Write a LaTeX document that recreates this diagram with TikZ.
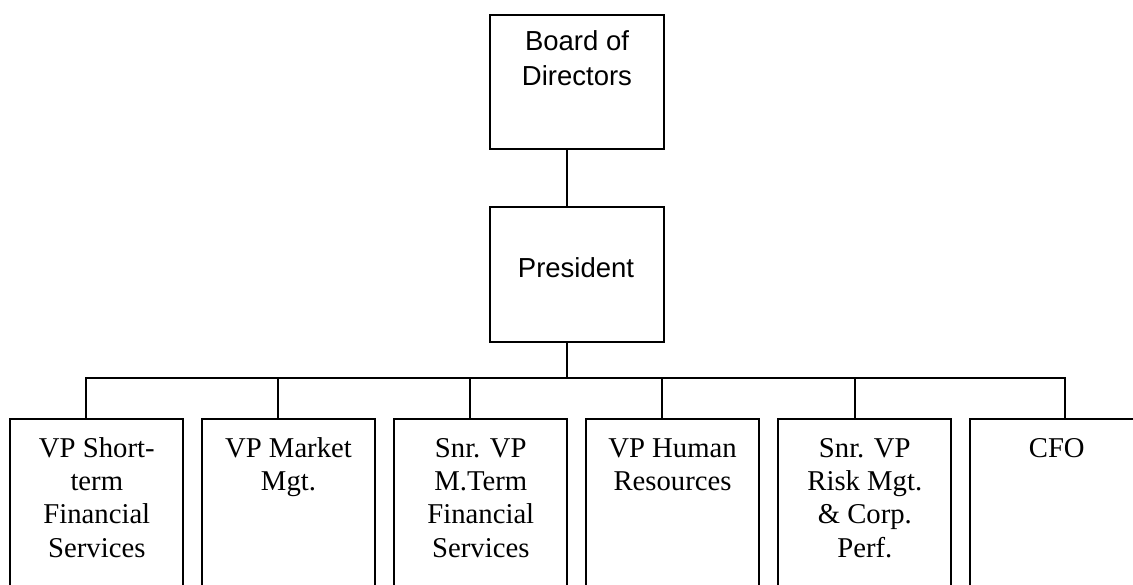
\documentclass[tikz,border=0pt]{standalone}
\usepackage{fontspec}
\setmainfont{Liberation Serif}
\newfontfamily\arialfont{Liberation Sans}
\begin{document}
\begin{tikzpicture}[x=1pt,y=-1pt,
  box/.style={draw,line width=2pt,inner sep=0pt,minimum width=173pt,minimum height=200pt,anchor=north west},
  topbox/.style={draw,line width=2pt,inner sep=0pt,minimum width=174pt,anchor=north west},
  lbl/.style={inner sep=0pt,align=center,font=\fontsize{28.7}{33.2}\selectfont,anchor=north},
  toplbl/.style={inner sep=0pt,align=center,font=\arialfont\fontsize{27.5}{35}\selectfont},
  conn/.style={line width=2pt}]
\useasboundingbox (0,0) rectangle (1133,585);
\clip (0,0) rectangle (1133,585);
% top boxes
\node[topbox,minimum height=134pt] (board) at (489,14) {};
\node[topbox,minimum height=135pt] (pres) at (489,206) {};
\node[toplbl,anchor=north] (boardt) at ([yshift=-11.5pt]board.north) {\strut Board of\\Directors};
\node[toplbl,anchor=base] (prest) at (576,277.3) {President};
% bottom boxes
\node[box] (b1) at (9.3,417.7) {};
\node[box] (b2) at (201,417.7) {};
\node[box] (b3) at (393.3,417.7) {};
\node[box] (b4) at (585,417.7) {};
\node[box] (b5) at (777.3,417.7) {};
\node[box] (b6) at (969.3,417.7) {};
\node[lbl] (t1) at ([yshift=-16.4pt]b1.north) {\strut VP Short-\\term\\Financial\\Services};
\node[lbl] (t2) at ([yshift=-16.4pt]b2.north) {\strut VP Market\\Mgt.};
\node[lbl] (t3) at ([yshift=-16.4pt]b3.north) {\strut Snr. VP\\M.Term\\Financial\\Services};
\node[lbl] (t4) at ([yshift=-16.4pt]b4.north) {\strut VP Human\\Resources};
\node[lbl] (t5) at ([yshift=-16.4pt]b5.north) {\strut Snr. VP\\Risk Mgt.\\\& Corp.\\Perf.};
\node[lbl] (t6) at ([yshift=-16.4pt]b6.north) {\strut CFO};
% connectors
\coordinate (bus) at (566.5,378.3);
\coordinate (j1) at (86,378.3);
\coordinate (j2) at (277.7,378.3);
\coordinate (j3) at (470.3,378.3);
\coordinate (j4) at (662,378.3);
\coordinate (j5) at (854.7,378.3);
\coordinate (j6) at (1065.3,378.3);
\draw[conn] (board.south -| bus) -- (pres.north -| bus);
\draw[conn] (pres.south -| bus) -- (bus);
\draw[conn,line cap=rect] (j1) -- (j6);
\foreach \i in {1,...,6} {\draw[conn] (j\i) -- (j\i |- b\i.north);}
\end{tikzpicture}
\end{document}
